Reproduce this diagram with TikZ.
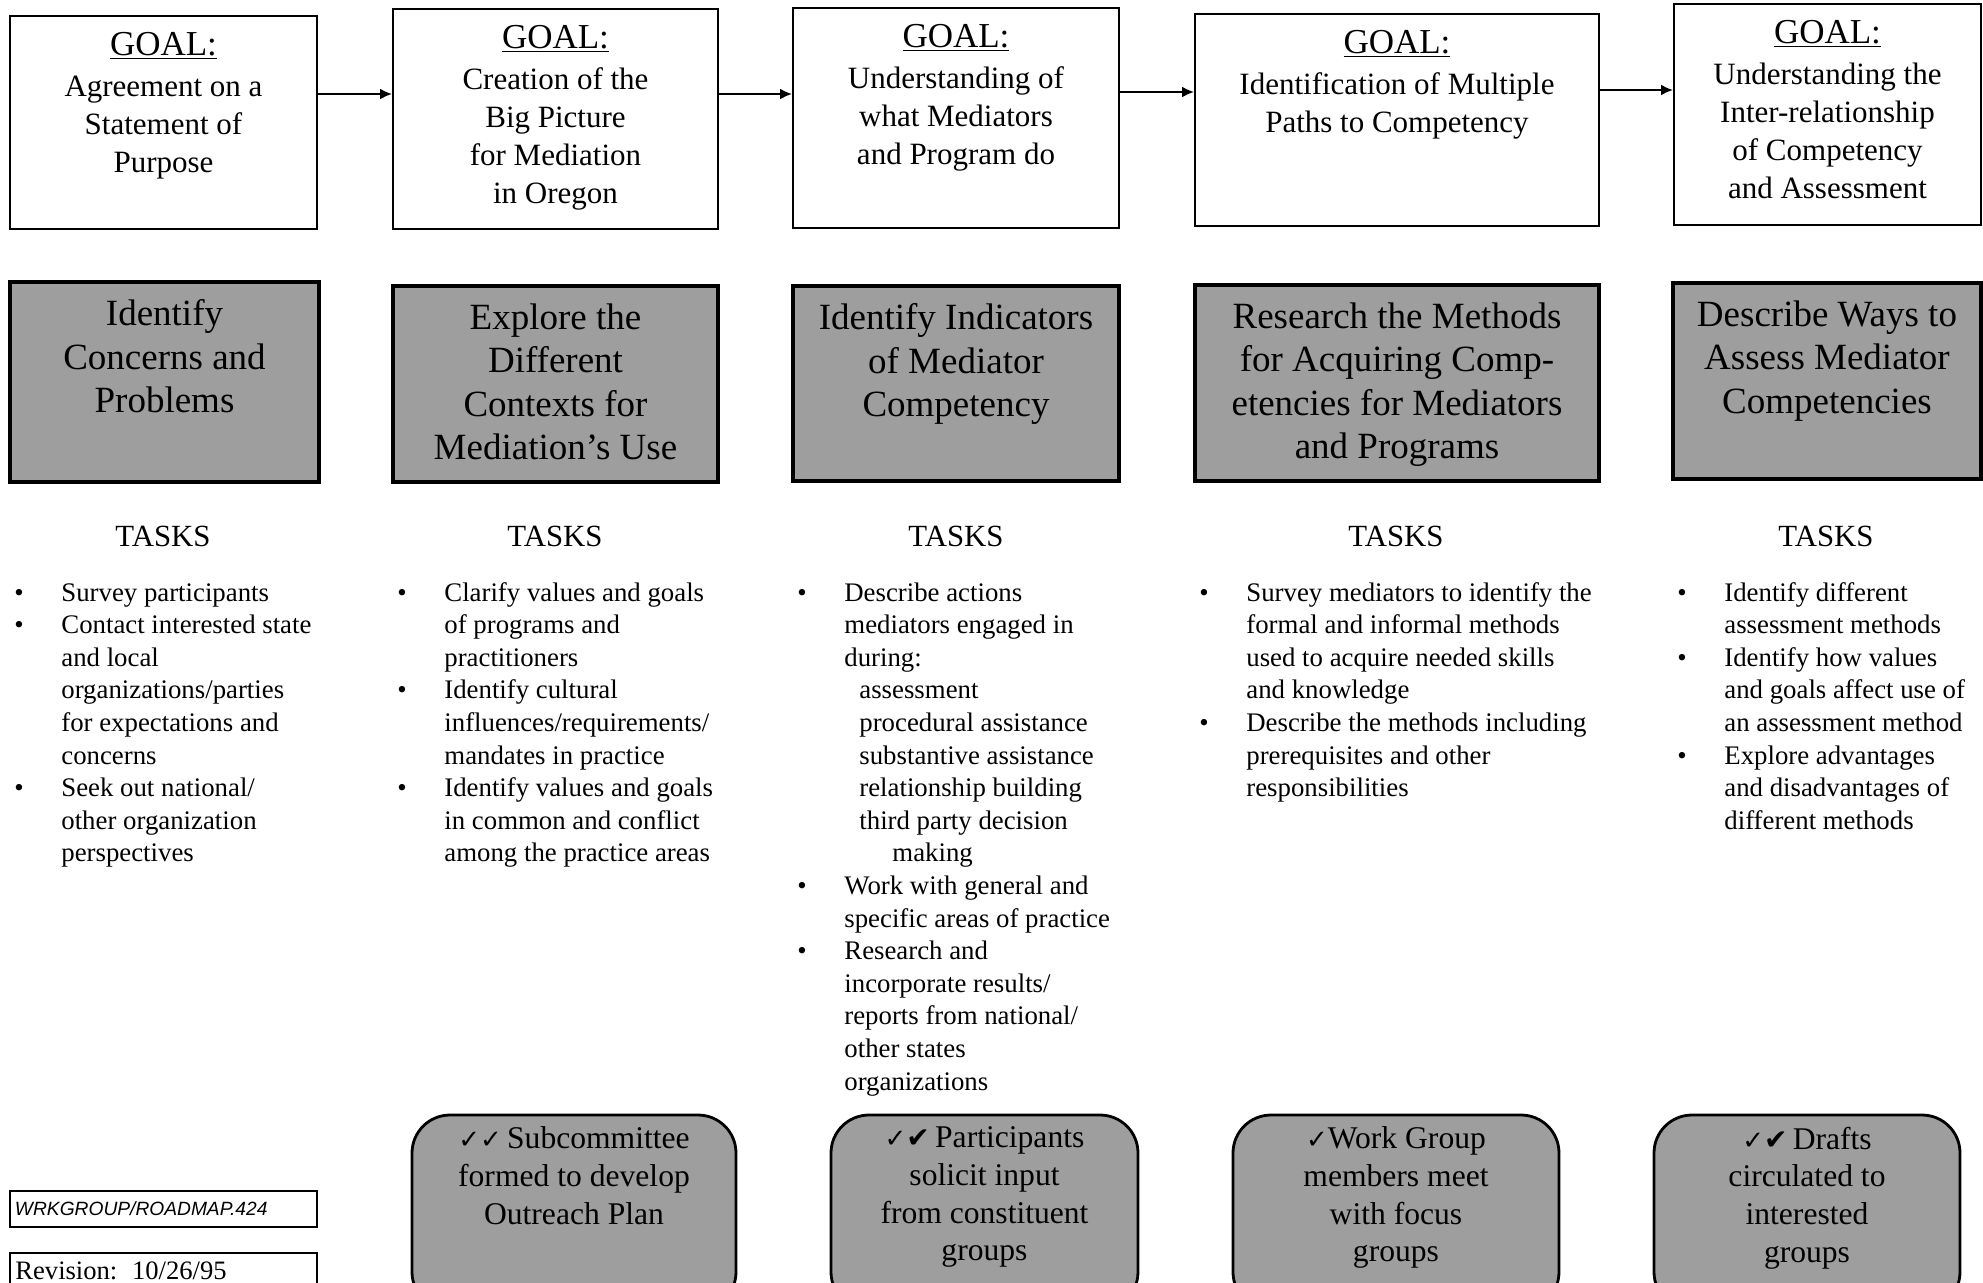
\documentclass[tikz,border=0pt]{standalone}
\usepackage{fontspec}
\setmainfont{Liberation Serif}
\newfontfamily\tagfont{Liberation Sans}
\newfontfamily\tickfont{DejaVu Sans}
\usetikzlibrary{arrows.meta,positioning}
\definecolor{screen}{gray}{0.62}
\newcommand{\goalhead}{{\fontsize{17.5}{21}\selectfont\underline{GOAL:}}\\[1.5pt]}
\newcommand{\tick}{{\tickfont\fontsize{13}{15}\selectfont ✓}}
\newcommand{\heavytick}{{\tickfont\fontsize{14}{15}\selectfont ✔}}

\begin{document}
\begin{tikzpicture}[x=0.5pt,y=-0.5pt,>={Latex[length=6pt,width=5.5pt]},
  goal/.style={draw,line width=1pt,inner sep=0pt},
  goaltext/.style={inner sep=0pt,align=center,font=\fontsize{15.5}{19}\selectfont},
  stepbox/.style={draw,line width=2.2pt,fill=screen,inner sep=0pt},
  steptext/.style={inner sep=0pt,align=center,font=\fontsize{18.5}{21.8}\selectfont},
  tasks/.style={inner sep=0pt,font=\fontsize{15.4}{18}\selectfont},
  tasklist/.style={inner sep=0pt,anchor=base west,font=\fontsize{13.4}{16.3}\selectfont},
  done/.style={draw,line width=1.4pt,fill=screen,rounded corners=19pt,inner sep=0pt},
  donetext/.style={inner sep=0pt,align=center,font=\fontsize{15.8}{18.8}\selectfont},
  tag/.style={draw,line width=0.8pt,inner sep=0pt},
  flow/.style={->,line width=1pt}]
\useasboundingbox (0,0) rectangle (1983,1282);

% goals
\node[goal,minimum width=153.5pt,minimum height=106.5pt] (g1) at (163.5,122.5) {};
\node[goal,minimum width=162.5pt,minimum height=110pt] (g2) at (555.5,119) {};
\node[goal,minimum width=163pt,minimum height=110pt] (g3) at (956,118) {};
\node[goal,minimum width=202pt,minimum height=106pt] (g4) at (1397,120) {};
\node[goal,minimum width=153.5pt,minimum height=110.5pt] (g5) at (1827.5,114.5) {};
\node[goaltext,below=8.5pt of g1.north] (gt1) {\goalhead Agreement on a\\Statement of\\Purpose};
\node[goaltext,below=8.5pt of g2.north] (gt2) {\goalhead Creation of the\\Big Picture\\for Mediation\\in Oregon};
\node[goaltext,below=8.5pt of g3.north] (gt3) {\goalhead Understanding of\\what Mediators\\and Program do};
\node[goaltext,below=8.5pt of g4.north] (gt4) {\goalhead Identification of Multiple\\Paths to Competency};
\node[goaltext,below=8.5pt of g5.north] (gt5) {\goalhead Understanding the\\Inter-relationship\\of Competency\\and Assessment};

\draw[flow] ([yshift=14.25pt]g1.east) -- ([yshift=14.25pt]g1.east -| g2.west);
\draw[flow] ([yshift=12.5pt]g2.east) -- ([yshift=12.5pt]g2.east -| g3.west);
\draw[flow] ([yshift=13pt]g3.east) -- ([yshift=13pt]g3.east -| g4.west);
\draw[flow] ([yshift=15pt]g4.east) -- ([yshift=15pt]g4.east -| g5.west);

% steps
\node[stepbox,minimum width=154.5pt,minimum height=100pt] (b1) at (164.5,382) {};
\node[stepbox,minimum width=162.5pt,minimum height=98pt] (b2) at (555.5,384) {};
\node[stepbox,minimum width=163pt,minimum height=97.5pt] (b3) at (956,383.5) {};
\node[stepbox,minimum width=202pt,minimum height=98pt] (b4) at (1397,383) {};
\node[stepbox,minimum width=154pt,minimum height=98pt] (b5) at (1827,381) {};
\node[steptext,below=9.6pt of b1.north] (bt1) {Identify\\Concerns and\\Problems};
\node[steptext,below=9.6pt of b2.north] (bt2) {Explore the\\Different\\Contexts for\\Mediation's Use};
\node[steptext,below=9.6pt of b3.north] (bt3) {Identify Indicators\\of Mediator\\Competency};
\node[steptext,below=9.6pt of b4.north] (bt4) {Research the Methods\\for Acquiring Comp-\\etencies for Mediators\\and Programs};
\node[steptext,below=9.6pt of b5.north] (bt5) {Describe Ways to\\Assess Mediator\\Competencies};

% tasks
\node[tasks] (k1) at (163,536) {TASKS};
\node[tasks] (k2) at (555,536) {TASKS};
\node[tasks] (k3) at (956,536) {TASKS};
\node[tasks] (k4) at (1396,536) {TASKS};
\node[tasks] (k5) at (1826,536) {TASKS};

\node[tasklist] (l1) at (14,601) {\begin{tabular}[t]{@{}p{23.5pt}@{}l@{}}
\textbullet & Survey participants\\
\textbullet & Contact interested state\\
 & and local\\
 & organizations/parties\\
 & for expectations and\\
 & concerns\\
\textbullet & Seek out national/\\
 & other organization\\
 & perspectives
\end{tabular}};
\node[tasklist] (l2) at (397,601) {\begin{tabular}[t]{@{}p{23.5pt}@{}l@{}}
\textbullet & Clarify values and goals\\
 & of programs and\\
 & practitioners\\
\textbullet & Identify cultural\\
 & influences/requirements/\\
 & mandates in practice\\
\textbullet & Identify values and goals\\
 & in common and conflict\\
 & among the practice areas
\end{tabular}};
\node[tasklist] (l3) at (797,601) {\begin{tabular}[t]{@{}p{23.5pt}@{}l@{}}
\textbullet & Describe actions\\
 & mediators engaged in\\
 & during:\\
 & \hspace*{7.5pt}assessment\\
 & \hspace*{7.5pt}procedural assistance\\
 & \hspace*{7.5pt}substantive assistance\\
 & \hspace*{7.5pt}relationship building\\
 & \hspace*{7.5pt}third party decision\\
 & \hspace*{24pt}making\\
\textbullet & Work with general and\\
 & specific areas of practice\\
\textbullet & Research and\\
 & incorporate results/\\
 & reports from national/\\
 & other states\\
 & organizations
\end{tabular}};
\node[tasklist] (l4) at (1199,601) {\begin{tabular}[t]{@{}p{23.5pt}@{}l@{}}
\textbullet & Survey mediators to identify the\\
 & formal and informal methods\\
 & used to acquire needed skills\\
 & and knowledge\\
\textbullet & Describe the methods including\\
 & prerequisites and other\\
 & responsibilities
\end{tabular}};
\node[tasklist] (l5) at (1677,601) {\begin{tabular}[t]{@{}p{23.5pt}@{}l@{}}
\textbullet & Identify different\\
 & assessment methods\\
\textbullet & Identify how values\\
 & and goals affect use of\\
 & an assessment method\\
\textbullet & Explore advantages\\
 & and disadvantages of\\
 & different methods
\end{tabular}};

% progress so far
\node[done,minimum width=162pt,minimum height=97.5pt] (r1) at (574,1212.5) {};
\node[done,minimum width=153.5pt,minimum height=97.5pt] (r2) at (984.5,1212.5) {};
\node[done,minimum width=163pt,minimum height=97.5pt] (r3) at (1396,1212.5) {};
\node[done,minimum width=153pt,minimum height=97.5pt] (r4) at (1807,1212.5) {};
\node[donetext,below=6.5pt of r1.north] (rt1) {\tick\tick\,Subcommittee\\formed to develop\\Outreach Plan};
\node[donetext,below=6.5pt of r2.north] (rt2) {\tick\heavytick\,Participants\\solicit input\\from constituent\\groups};
\node[donetext,below=6.5pt of r3.north] (rt3) {\tick Work Group\\members meet\\with focus\\groups};
\node[donetext,below=6.5pt of r4.north] (rt4) {\tick\heavytick\,Drafts\\circulated to\\interested\\groups};

% file tags
\node[tag,minimum height=18pt,text width=148.5pt,inner xsep=2.5pt,align=left,
  font=\tagfont\itshape\fontsize{9.6}{11}\selectfont] (file) at (163.5,1209) {WRKGROUP/ROADMAP.424};
\node[tag,minimum width=153.5pt,minimum height=28.5pt] (rev) at (163.5,1281.5) {};
\node[inner sep=0pt,anchor=west,font=\fontsize{13.3}{15}\selectfont] (revtext) at (15,1271) {Revision:\hspace{0.55em}10/26/95};
\end{tikzpicture}
\end{document}
